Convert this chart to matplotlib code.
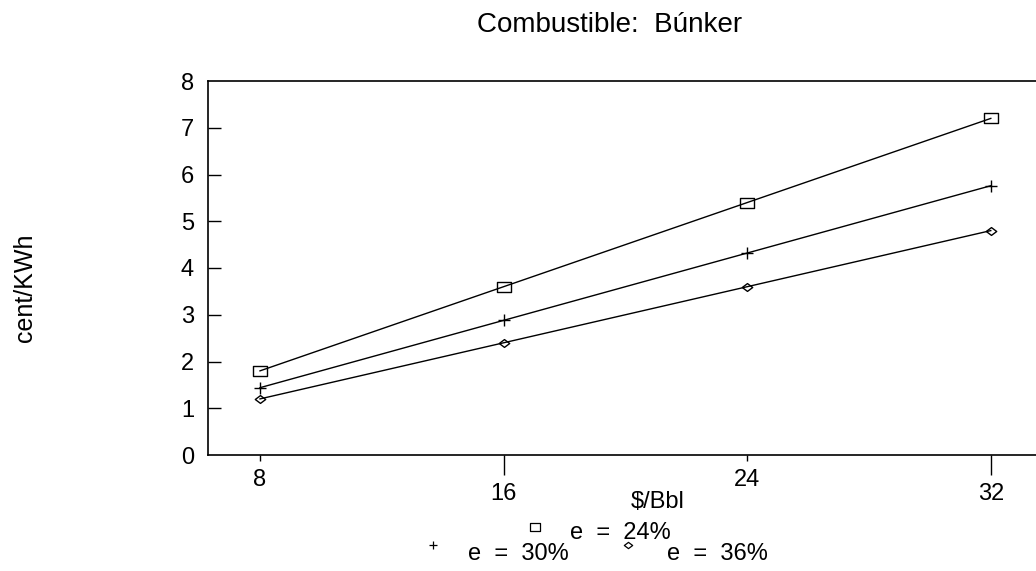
import matplotlib
matplotlib.use("Agg")
import matplotlib.pyplot as plt
from matplotlib.lines import Line2D
from matplotlib.path import Path

price = [8, 16, 24, 32]
e24 = [1.8, 3.6, 5.4, 7.2]
e30 = [1.44, 2.88, 4.32, 5.76]
e36 = [1.2, 2.4, 3.6, 4.8]
labels = ["e  =  24%", "e  =  30%", "e  =  36%"]
yticks = [0, 1, 2, 3, 4, 5, 6, 7, 8]

plt.rcParams['font.family'] = ['Liberation Sans', 'DejaVu Sans']

W, H = 1036, 571
fig = plt.figure(figsize=(W/100, H/100), dpi=100)
ax = fig.add_axes([208/W, 1-455/H, 1-208/W, (455-81)/H])

rect = Path([(-1.35, -1), (1.35, -1), (1.35, 1), (-1.35, 1), (-1.35, -1)],
            [Path.MOVETO, Path.LINETO, Path.LINETO, Path.LINETO, Path.CLOSEPOLY])
diam = Path([(-1, 0), (0, 0.75), (1, 0), (0, -0.75), (-1, 0)],
            [Path.MOVETO, Path.LINETO, Path.LINETO, Path.LINETO, Path.CLOSEPOLY])

kw = dict(color='black', lw=1.0, mfc='none', mec='black', mew=1.0)
ax.plot(price, e24, marker=rect, ms=9.5, **kw)
ax.plot(price, e30, marker='+', ms=9, **kw)
ax.plot(price, e36, marker=diam, ms=7.5, **kw)

ax.set_xlim(8 - 52/30.45, 8 - 52/30.45 + 828/30.45)
ax.set_ylim(0, 8)
ax.set_yticks(yticks)
ax.set_yticklabels([str(v) for v in yticks], fontsize=17)
ax.tick_params(axis='y', direction='in', length=9.5, width=1, pad=10)
ax.yaxis.get_major_ticks()[0].tick1line.set_visible(False)
ax.yaxis.get_major_ticks()[-1].tick1line.set_visible(False)

ax.set_xticks([price[0], price[2]])
ax.set_xticklabels([str(price[0]), str(price[2])], fontsize=17)
ax.set_xticks([price[1], price[3]], minor=True)
ax.set_xticklabels([str(price[1]), str(price[3])], minor=True, fontsize=17)
ax.tick_params(axis='x', which='major', direction='out', length=4.3, width=1, pad=5.5)
ax.tick_params(axis='x', which='minor', direction='out', length=14.4, width=1, pad=5.5)

for s in ax.spines.values():
    s.set_linewidth(1.2)
ax.spines['right'].set_visible(False)

fig.text(610/W, 1-32/H, "Combustible:  Búnker", ha='center', va='baseline', fontsize=20)
fig.text(25/W, 1-288/H, "cent/KWh", rotation=90, ha='center', va='center', fontsize=18)
fig.text(658/W, 1-508/H, "$/Bbl", ha='center', va='baseline', fontsize=17)

# legend (one entry on the first row, two on the second)
leg_items = [
    (535, 527, rect, 7.0, labels[0], 570, 539),
    (433, 545, '+', 6.0, labels[1], 468, 560),
    (628, 545, diam, 6.0, labels[2], 667, 560),
]
for mx, my, m, ms, lab, tx, ty in leg_items:
    fig.add_artist(Line2D([mx/W], [1-my/H], marker=m, ms=ms, mfc='none', mec='black',
                          mew=0.9, color='black', lw=0, transform=fig.transFigure))
    fig.text(tx/W, 1-ty/H, lab, ha='left', va='baseline', fontsize=17)

fig.savefig("out.png", dpi=100)
